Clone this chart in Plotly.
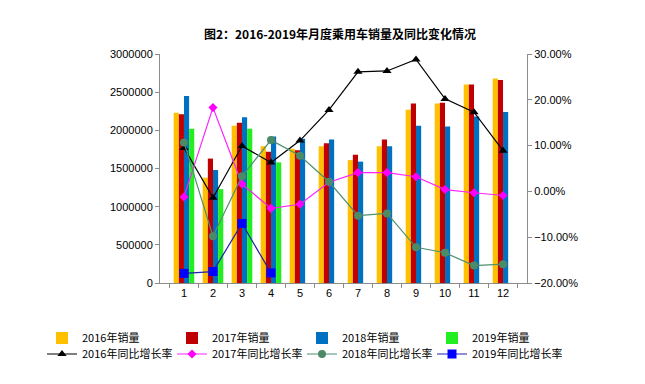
import plotly.graph_objects as go

months = ["1", "2", "3", "4", "5", "6", "7", "8", "9", "10", "11", "12"]

sales_2016 = [2230000, 1380000, 2060000, 1790000, 1760000, 1790000, 1610000, 1790000, 2270000, 2350000, 2600000, 2680000]
sales_2017 = [2210000, 1630000, 2100000, 1720000, 1740000, 1830000, 1680000, 1880000, 2350000, 2360000, 2600000, 2660000]
sales_2018 = [2450000, 1480000, 2170000, 1920000, 1890000, 1880000, 1590000, 1790000, 2060000, 2050000, 2180000, 2240000]
sales_2019 = [2020000, 1230000, 2020000, 1580000, None, None, None, None, None, None, None, None]

yoy_2016 = [0.095, -0.014, 0.099, 0.063, 0.111, 0.178, 0.261, 0.263, 0.288, 0.202, 0.173, 0.089]
yoy_2017 = [-0.012, 0.183, 0.016, -0.037, -0.028, 0.020, 0.041, 0.041, 0.032, 0.004, -0.003, -0.009]
yoy_2018 = [0.107, -0.098, 0.033, 0.112, 0.078, 0.021, -0.053, -0.048, -0.122, -0.134, -0.162, -0.159]
yoy_2019 = [-0.179, -0.175, -0.070, -0.178, None, None, None, None, None, None, None, None]

left_ticks = [0, 500000, 1000000, 1500000, 2000000, 2500000, 3000000]
right_ticks = [-0.2, -0.1, 0.0, 0.1, 0.2, 0.3]

FONT = "Liberation Sans, Noto Sans CJK SC, sans-serif"
CJK = "Noto Sans CJK SC, Liberation Sans, sans-serif"

# page body has an 8px margin; figure is sized so that it sits where the reference does
OFF = 8
W, H = 645 - OFF, 384 - OFF
L, R, T, B = 160 - OFF, 118, 54 - OFF, 101
PW, PH = W - L - R, H - T - B

fig = go.Figure()

bar_specs = [
    ("2016年销量", sales_2016, "#FFC000"),
    ("2017年销量", sales_2017, "#C00000"),
    ("2018年销量", sales_2018, "#0070C0"),
    ("2019年销量", sales_2019, "#22EE22"),
]
for name, vals, col in bar_specs:
    fig.add_trace(go.Bar(x=months, y=vals, name=name, marker=dict(color=col, line=dict(width=0)),
                         legend="legend"))

line_specs = [
    ("2016年同比增长率", yoy_2016, "#000000", "#000000", "triangle-up", 8),
    ("2017年同比增长率", yoy_2017, "#FF22FF", "#FF00FF", "diamond", 7),
    ("2018年同比增长率", yoy_2018, "#4F9070", "#4B8B68", "circle", 8),
    ("2019年同比增长率", yoy_2019, "#2020B0", "#0000FF", "square", 9),
]
for name, vals, lc, mc, sym, sz in line_specs:
    fig.add_trace(go.Scatter(x=months, y=vals, name=name, yaxis="y2", mode="lines+markers",
                             line=dict(color=lc, width=1.2),
                             marker=dict(color=mc, symbol=sym, size=sz),
                             legend="legend2"))


def px_to_paper_x(px):
    return (px - OFF - L) / PW


def px_to_paper_y(py):
    return (H - B - (py - OFF)) / PH


axis_col = "#8C8C8C"
legend_common = dict(orientation="h", xref="paper", yref="paper", xanchor="left", yanchor="middle",
                     entrywidth=85, entrywidthmode="pixels", itemwidth=30,
                     font=dict(family=CJK, size=11, color="#000000"), bgcolor="rgba(0,0,0,0)",
                     tracegroupgap=0)

fig.update_layout(
    width=W, height=H,
    margin=dict(l=L, r=R, t=T, b=B, autoexpand=False),
    paper_bgcolor="white", plot_bgcolor="white",
    barmode="group", bargap=0.29, bargroupgap=0,
    title=dict(text="<b>图2：2016-2019年月度乘用车销量及同比变化情况</b>",
               font=dict(family=CJK, size=12, color="#000000"),
               x=(340 - OFF) / W, xanchor="center", y=1 - (35 - OFF) / H, yanchor="middle"),
    xaxis=dict(type="category", showline=True, linecolor=axis_col, linewidth=1,
               ticks="outside", tickson="boundaries", ticklen=4, tickcolor=axis_col,
               tickfont=dict(family=FONT, size=11, color="#000000"), showgrid=False,
               zeroline=False),
    yaxis=dict(range=[0, 3000000], tickvals=left_ticks, ticktext=[str(v) for v in left_ticks],
               showline=True, linecolor=axis_col, linewidth=1, ticks="outside", ticklen=4,
               tickcolor=axis_col, tickfont=dict(family=FONT, size=11, color="#000000"),
               showgrid=False, zeroline=False),
    yaxis2=dict(range=[-0.2, 0.3], tickvals=right_ticks, tickformat=".2%", overlaying="y",
                side="right", showline=True, linecolor=axis_col, linewidth=1, ticks="outside",
                ticklen=4, tickcolor=axis_col, tickfont=dict(family=FONT, size=11, color="#000000"),
                showgrid=False, zeroline=False),
    legend=dict(x=px_to_paper_x(42), y=px_to_paper_y(338), **legend_common),
    legend2=dict(x=px_to_paper_x(42), y=px_to_paper_y(354), **legend_common),
)

fig.write_html("out.html")
